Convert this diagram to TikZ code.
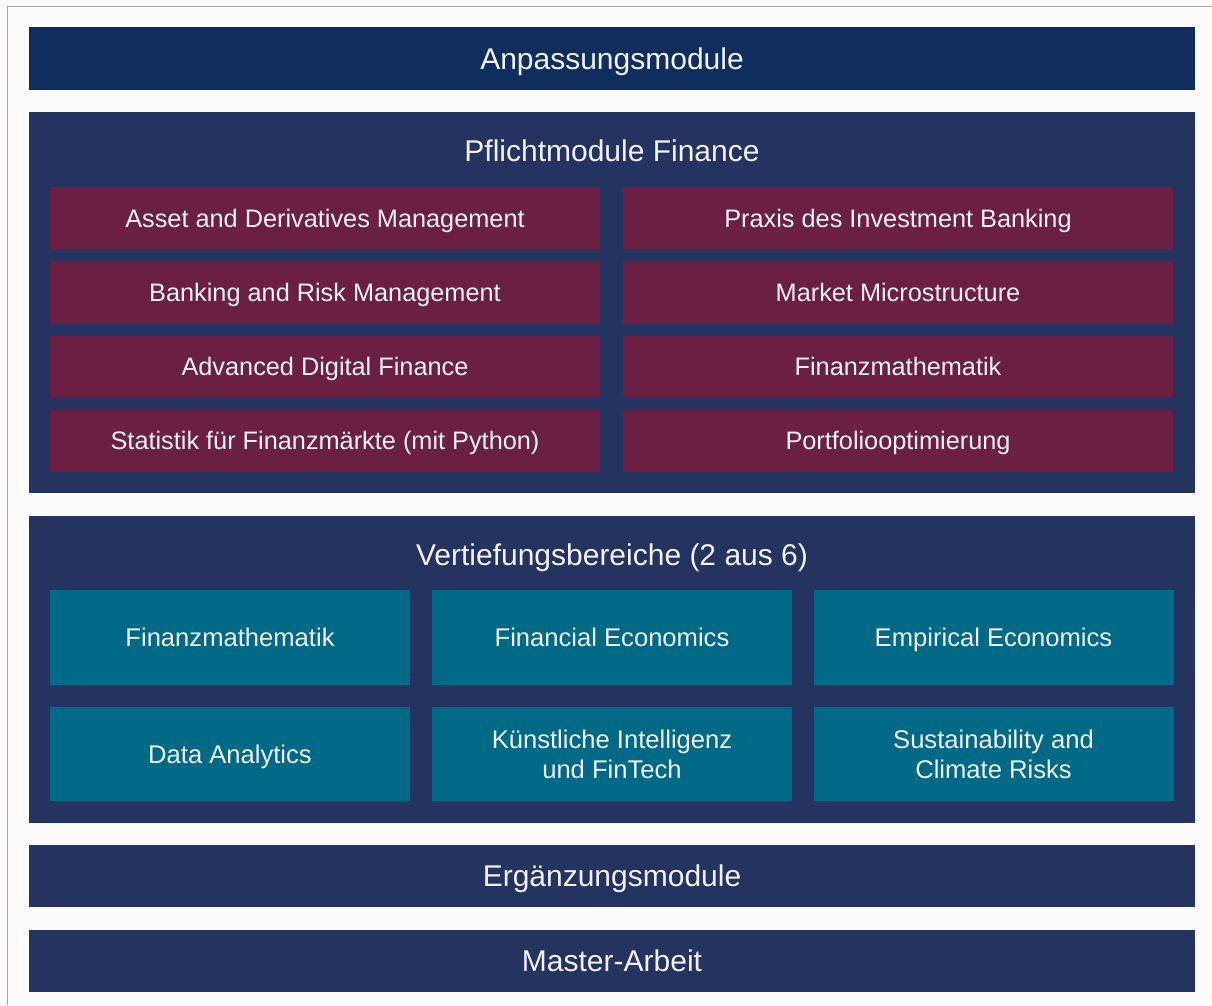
\documentclass[tikz,border=0pt]{standalone}
\usepackage{fontspec}
\setmainfont{Liberation Sans}
\definecolor{bgc}{HTML}{FDFBFC}
\definecolor{navytop}{HTML}{0F2E5E}
\definecolor{navy}{HTML}{243360}
\definecolor{wine}{HTML}{6B1F42}
\definecolor{tealc}{HTML}{006A86}
\definecolor{txt}{HTML}{F2F2F4}
\begin{document}
\begin{tikzpicture}[x=1pt,y=-1pt,
  bar/.style={fill=navy, text=txt, inner sep=0pt, minimum width=1166pt, minimum height=62pt, text height=21.6pt, text depth=0pt, font=\fontsize{30}{36}\selectfont},
  panel/.style={fill=navy, inner sep=0pt, minimum width=1166pt},
  ttl/.style={text=txt, inner sep=0pt, text height=21.6pt, text depth=0pt, font=\fontsize{30}{36}\selectfont},
  redbox/.style={fill=wine, text=txt, inner sep=0pt, minimum width=550pt, minimum height=62pt, text height=18.2pt, text depth=0pt, font=\fontsize{25.3}{30}\selectfont},
  tealbox/.style={fill=tealc, text=txt, inner sep=0pt, minimum width=360pt, minimum height=95pt, align=center, text height=18.4pt, text depth=0pt, font=\fontsize{25.6}{30}\selectfont},
  twoline/.style={text height=48.4pt, text depth=0pt}
]
\fill[bgc] (0,0) rectangle (1212,1005);
\useasboundingbox (0,0) rectangle (1212,1005);
\draw[gray!70, line width=1pt] (7,1005) -- (7,6.5) -- (1212,6.5);

\node[bar, fill=navytop, minimum height=63pt] (anp) at (612,58.5) {Anpassungsmodule};

\node[panel, minimum height=381pt] (pfl) at (612,302.5) {};
\node[ttl] (pfltitle) at (612,151) {Pflichtmodule Finance};
\node[redbox] (r1) at (325,218) {Asset and Derivatives Management};
\node[redbox] (r2) at (325,292.5) {Banking and Risk Management};
\node[redbox] (r3) at (325,366.5) {Advanced Digital Finance};
\node[redbox] (r4) at (325,440.5) {Statistik für Finanzmärkte (mit Python)};
\node[redbox] (s1) at (898,218) {Praxis des Investment Banking};
\node[redbox] (s2) at (898,292.5) {Market Microstructure};
\node[redbox] (s3) at (898,366.5) {Finanzmathematik};
\node[redbox] (s4) at (898,440.5) {Portfoliooptimierung};

\node[panel, minimum height=307pt] (vert) at (612,669.5) {};
\node[ttl] (verttitle) at (612,555) {Vertiefungsbereiche (2 aus 6)};
\node[tealbox] (t1) at (230,637.5) {Finanzmathematik};
\node[tealbox] (t2) at (612,637.5) {Financial Economics};
\node[tealbox] (t3) at (993.5,637.5) {Empirical Economics};
\node[tealbox, minimum height=94pt] (t4) at (230,754) {Data Analytics};
\node[tealbox, twoline, minimum height=94pt] (t5) at (612,754) {Künstliche Intelligenz\\und FinTech};
\node[tealbox, twoline, minimum height=94pt] (t6) at (993.5,754) {Sustainability and\\Climate Risks};

\node[bar] (erg) at (612,876) {Ergänzungsmodule};
\node[bar] (mas) at (612,961) {Master-Arbeit};
\end{tikzpicture}
\end{document}
